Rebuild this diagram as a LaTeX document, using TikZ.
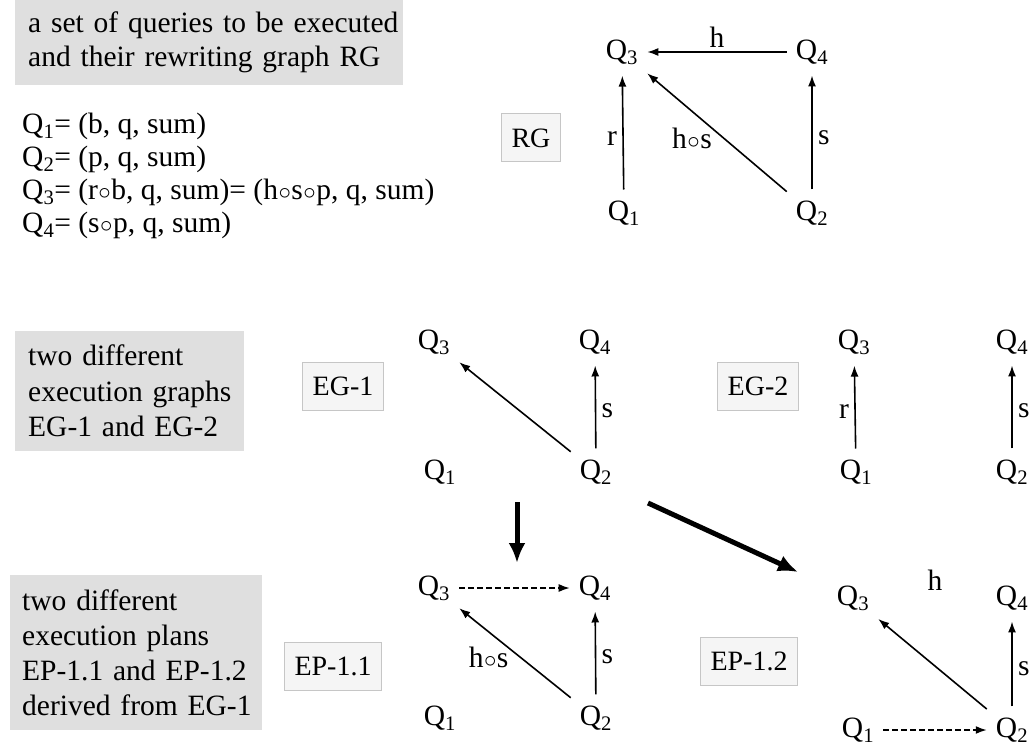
\documentclass[tikz,border=0pt]{standalone}
\usepackage{fontspec}
\setmainfont{Liberation Serif}
\usetikzlibrary{arrows.meta}

\newcommand{\qn}[1]{Q\textsubscript{#1}}
\newcommand{\oo}{\hspace{0.5pt}$\circ$\hspace{0.5pt}}

\tikzset{
  qnode/.style={inner xsep=9pt, inner ysep=11pt},
  infobox/.style={fill=gray!25, align=left, anchor=north west, inner xsep=13pt, inner ysep=0pt},
  tagbox/.style={draw=gray!45, fill=gray!8, line width=1pt, minimum height=48pt, inner xsep=10pt,
    font=\fontsize{28}{32}\selectfont},
  arr/.style={-{Latex[length=11pt,width=8pt]}, line width=1.6pt},
  darr/.style={arr, dash pattern=on 6pt off 3pt},
  bigarr/.style={-{Latex[length=20pt,width=17pt]}, line width=5pt},
}

\begin{document}
\begin{tikzpicture}[x=1pt, y=-1pt, font=\fontsize{29.5}{33}\selectfont]
\useasboundingbox (0,0) rectangle (1035,746);

% --- rewriting graph ---
\node[infobox, text width=362pt, minimum height=85pt, font=\fontsize{29.5}{34}\selectfont] (setbox) at (15,0)
  {\mbox{a set of queries to be executed}\\\mbox{and their rewriting graph RG}};
\node[anchor=north west, align=left, inner sep=0pt] (eqs) at (22,113)
  {\qn{1}= (b, q, sum)\\
   \qn{2}= (p, q, sum)\\
   \qn{3}= (r\oo b, q, sum)= (h\oo s\oo p, q, sum)\\
   \qn{4}= (s\oo p, q, sum)};
\node[tagbox] (rg) at (531,138) {RG};

\node[qnode] (rg3) at (622,52) {\qn{3}};
\node[qnode] (rg4) at (812,52) {\qn{4}};
\node[qnode] (rg1) at (624,213) {\qn{1}};
\node[qnode] (rg2) at (812,213) {\qn{2}};
\draw[arr] (rg4) -- node[above=0pt] {h} (rg3);
\draw[arr] (rg1) -- node[pos=.45, left=2pt] {r} (rg3);
\draw[arr] (rg2) -- node[pos=.45, left=8pt] {h\oo s} (rg3);
\draw[arr] (rg2) -- node[pos=.45, right=2pt] {s} (rg4);

% --- execution graphs ---
\node[infobox, text width=203pt, minimum height=120pt, font=\fontsize{29.5}{35.5}\selectfont] (egbox) at (15,331)
  {\mbox{two different}\\\mbox{execution graphs}\\\mbox{EG-1 and EG-2}};
\node[tagbox] (eg1) at (343,386) {EG-1};
\node[tagbox] (eg2) at (758,386) {EG-2};

\node[qnode] (ea3) at (434,342) {\qn{3}};
\node[qnode] (ea4) at (595,342) {\qn{4}};
\node[qnode] (ea1) at (440,472) {\qn{1}};
\node[qnode] (ea2) at (596,472) {\qn{2}};
\draw[arr] (ea2) -- (ea3);
\draw[arr] (ea2) -- node[pos=.45, right=2pt] {s} (ea4);

\node[qnode] (eb3) at (854,342) {\qn{3}};
\node[qnode] (eb4) at (1012,342) {\qn{4}};
\node[qnode] (eb1) at (856,472) {\qn{1}};
\node[qnode] (eb2) at (1012,472) {\qn{2}};
\draw[arr] (eb1) -- node[pos=.45, left=2pt] {r} (eb3);
\draw[arr] (eb2) -- node[pos=.45, right=2pt] {s} (eb4);

% --- derivation arrows ---
\coordinate (down1) at (517,502);
\coordinate (down2) at (517,563);
\coordinate (diag1) at (648,503);
\coordinate (diag2) at (798,572);
\draw[bigarr] (down1) -- (down2);
\draw[bigarr] (diag1) -- (diag2);

% --- execution plans ---
\node[infobox, text width=228pt, minimum height=155pt, inner xsep=12pt, font=\fontsize{29.5}{35}\selectfont] (epbox) at (10,575)
  {\mbox{two different}\\\mbox{execution plans}\\\mbox{EP-1.1 and EP-1.2}\\\mbox{derived from EG-1}};
\node[tagbox] (ep1) at (333,666) {EP-1.1};
\node[tagbox] (ep2) at (749,661) {EP-1.2};

\node[qnode] (pa3) at (434,588) {\qn{3}};
\node[qnode] (pa4) at (595,588) {\qn{4}};
\node[qnode] (pa1) at (440,718) {\qn{1}};
\node[qnode] (pa2) at (596,718) {\qn{2}};
\draw[darr] (pa3) -- (pa4);
\draw[arr] (pa2) -- node[pos=.45, left=8pt] {h\oo s} (pa3);
\draw[arr] (pa2) -- node[pos=.45, right=2pt] {s} (pa4);

\node[qnode] (pb3) at (853,598) {\qn{3}};
\node[qnode] (pb4) at (1012,598) {\qn{4}};
\node[qnode] (pb1) at (858,730) {\qn{1}};
\node[qnode] (pb2) at (1012,730) {\qn{2}};
\node (hlab) at (935,580) {h};
\draw[arr] (pb2) -- (pb3);
\draw[arr] (pb2) -- node[pos=.45, right=2pt] {s} (pb4);
\draw[darr] (pb1) -- (pb2);

\end{tikzpicture}
\end{document}
